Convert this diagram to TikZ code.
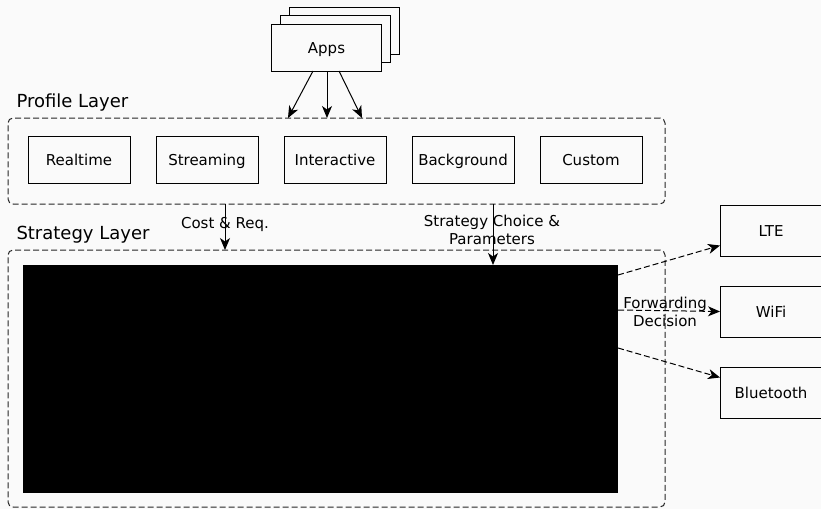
\documentclass[tikz,border=0pt]{standalone}
\usepackage{fontspec}
\setmainfont{DejaVu Sans}
\usepackage{tikz}
\usetikzlibrary{arrows.meta, positioning, shapes}
\definecolor{bgcol}{HTML}{FAFAFA}

\begin{document}
\begin{tikzpicture}[x=1pt, y=-1pt, node distance=26pt, line width=1pt,
        every node/.style={font=\fontsize{15}{18}\selectfont}]
            \tikzstyle{block} = [rectangle, draw, fill=bgcol, inner sep=0pt, outer sep=0pt, minimum width=102pt, minimum height=47pt, text height=11pt, text depth=0pt]
            \tikzstyle{layer} = [rectangle, draw=black!85, dashed, dash pattern=on 6pt off 3pt, rounded corners=5pt, inner sep=0pt, outer sep=0pt]
            \tikzstyle{title} = [anchor=base west, inner sep=0pt, font=\fontsize{18}{21}\selectfont]
            \tikzstyle{line} = [draw, -{Stealth[length=12pt, width=10pt, inset=3.5pt]}]
            \tikzstyle{dline} = [draw, dashed, dash pattern=on 6pt off 3pt, -{Stealth[length=12pt, width=10pt, inset=3.5pt]}]

            \fill[bgcol] (0,0) rectangle (821,509);
            \useasboundingbox (0,0) rectangle (821,509);

            % Apps (gestapelt)
            \node[block, minimum width=110pt] (apps3) at (344,30.5) {};
            \node[block, minimum width=110pt] (apps2) at (335.5,39) {};
            \node[block, minimum width=110pt] (apps) at (326.5,47.5) {Apps};

            % Profile Layer
            \node[layer, minimum width=657pt, minimum height=86pt] (profile) at (336.5,161) {};
            \node[title] (proflabel) at (16,107) {Profile Layer};
            \node[block] (realtime) at (79,159.5) {Realtime};
            \node[block, right=of realtime] (streaming) {Streaming};
            \node[block, right=of streaming] (interactive) {Interactive};
            \node[block, right=of interactive] (background) {Background};
            \node[block, right=of background] (custom) {Custom};

            % Strategy Layer
            \node[layer, minimum width=657pt, minimum height=257pt] (strategy) at (336.5,378.5) {};
            \node[title] (stratlabel) at (16,239) {Strategy Layer};
            \node[rectangle, fill=black, inner sep=0pt, outer sep=0pt, minimum width=595pt, minimum height=228pt] (engine) at (320.5,379) {};

            % Schnittstellen
            \node[block, minimum height=51pt] (lte) at (771,230.5) {LTE};
            \node[block, minimum height=51pt, below=30pt of lte] (wifi) {WiFi};
            \node[block, minimum height=51pt, below=30pt of wifi] (bt) {Bluetooth};

            % Beschriftungen
            \node[anchor=base] (costlabel) at (225,228) {Cost \& Req.};
            \node[align=center] (choicelabel) at (492,230) {Strategy Choice \&\\Parameters};
            \node[align=center] (fwdlabel) at (665,312) {Forwarding\\Decision};

            % Pfeile
            \path [line] ([xshift=-13.5pt]apps.south) -- ([xshift=-48.5pt]profile.north);
            \path [line] ([xshift=0.5pt]apps.south) -- ([xshift=-9.5pt]profile.north);
            \path [line] ([xshift=12.5pt]apps.south) -- ([xshift=25.5pt]profile.north);
            \path [line] ([xshift=-111.5pt]profile.south) -- ([xshift=-111.5pt]strategy.north);
            \path [line] ([xshift=156.5pt]profile.south) -- ([xshift=172.5pt]engine.north);
            \path [dline] ([yshift=104pt]engine.east) -- ([yshift=-15pt]lte.west);
            \path [dline] ([yshift=69pt]engine.east) -- (wifi.west);
            \path [dline] ([yshift=31pt]engine.east) -- ([yshift=15pt]bt.west);
        \end{tikzpicture}
\end{document}
